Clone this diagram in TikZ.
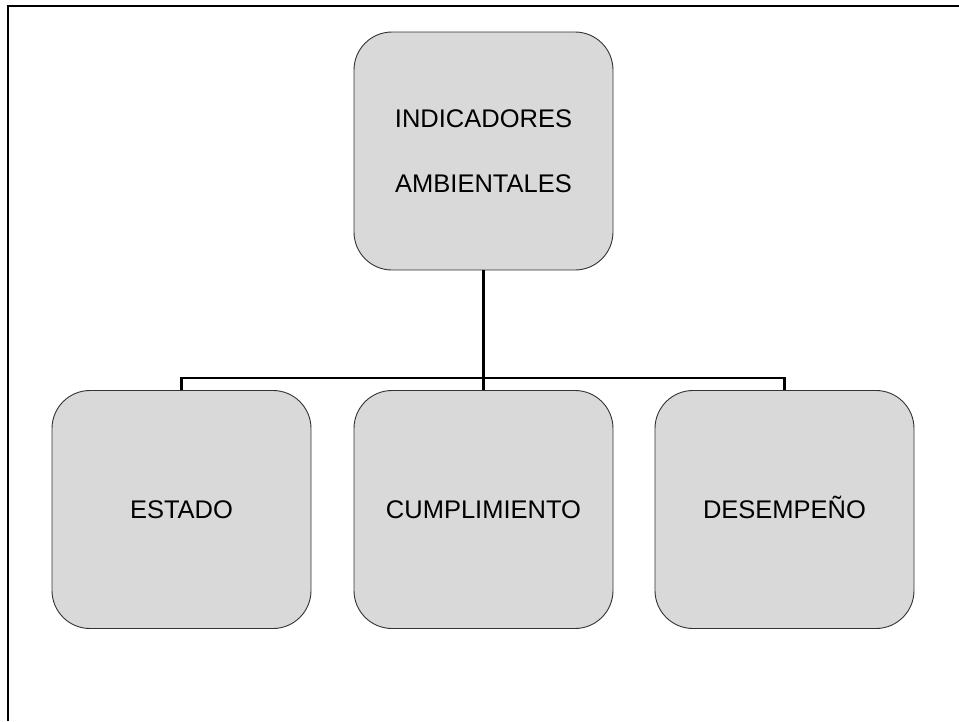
\documentclass[tikz,border=0pt]{standalone}
\usepackage{fontspec}
\setmainfont{Liberation Sans}
\begin{document}
\begin{tikzpicture}[x=1pt,y=-1pt,
  box/.style={draw=black!80, line width=0.9pt, fill=boxgray, rounded corners=38pt,
    minimum width=259pt, minimum height=238pt, inner sep=0pt, align=center,
    font=\fontsize{25.5}{65}\selectfont},
  single/.style={text height=18.3pt, text depth=0pt},
  conn/.style={draw=black, line width=2.4pt}]
\definecolor{boxgray}{HTML}{D9D9D9}
\useasboundingbox (0,0) rectangle (959,721);
\draw[line width=2.6pt] (8,721) -- (8,6) -- (959,6);
\node[box] (top) at (483.5,151) {INDICADORES\\AMBIENTALES};
\node[box, single] (est) at (181.5,509.5) {ESTADO};
\node[box, single] (cum) at (483.5,509.5) {CUMPLIMIENTO};
\node[box, single] (des) at (784.5,509.5) {DESEMPE\~NO};
\coordinate (bar) at (483.5,378);
\draw[conn] (top.south) -- (cum.north);
\draw[conn] (est.north) |- (bar) -| (des.north);
\end{tikzpicture}
\end{document}
